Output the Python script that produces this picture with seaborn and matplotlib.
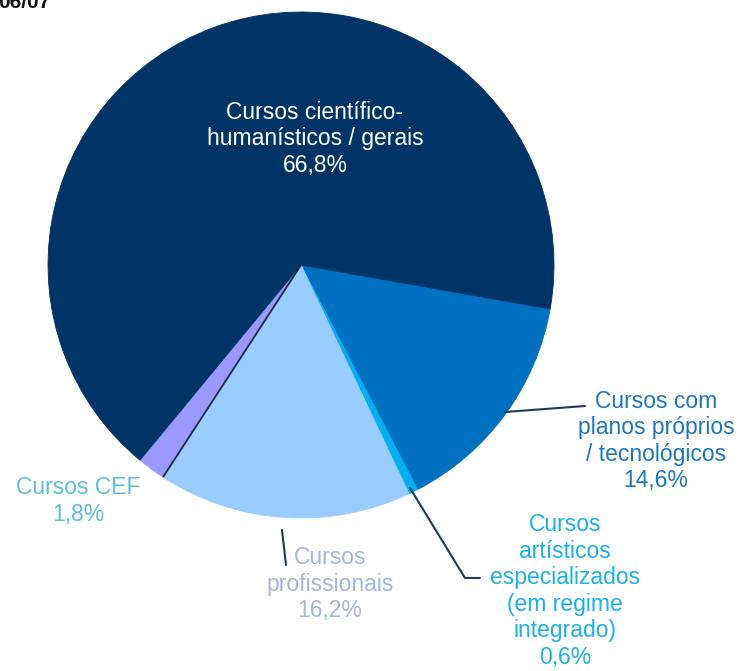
import numpy as np
import matplotlib
matplotlib.use("Agg")
import matplotlib.pyplot as plt
import seaborn as sns

categories = ["Cursos com\nplanos próprios\n/ tecnológicos",
              "Cursos\nartísticos\nespecializados\n(em regime\nintegrado)",
              "Cursos\nprofissionais",
              "Cursos CEF",
              "Cursos científico-\nhumanísticos / gerais"]
values = [14.6, 0.6, 16.2, 1.8, 66.8]
value_labels = ["14,6%", "0,6%", "16,2%", "1,8%", "66,8%"]
colors = ["#0070C0", "#00B0F0", "#99CCFF", "#9999FF", "#003366"]
label_colors = ["#1A78C2", "#19B2EA", "#A3B6E2", "#5CC0DA", "#FFFFFF"]
title = "06/07"

sns.set_theme(style="white")
plt.rcParams['font.family'] = ['Liberation Sans', 'DejaVu Sans']

W, H = 744, 671
fig = plt.figure(figsize=(W / 100, H / 100), dpi=100)
ax = fig.add_axes([0, 0, 1, 1])

cx, cy, R = 301, 265, 253
wedges, _ = ax.pie(values, colors=sns.color_palette(colors), startangle=10,
                   counterclock=True, center=(cx, cy), radius=R,
                   wedgeprops=dict(linewidth=0.6, antialiased=True))
for w, c in zip(wedges, colors):
    w.set_edgecolor(c)

ax.set_xlim(0, W)
ax.set_ylim(H, 0)
ax.set_aspect("equal")
ax.axis("off")

# Y axis is inverted, so angles go clockwise on screen; compute boundaries
bounds = np.concatenate([[10], 10 + np.cumsum(values) * 3.6])

def pt(angle, r):
    a = np.deg2rad(angle)
    return cx + r * np.cos(a), cy + r * np.sin(a)

# thin dark line between profissionais and CEF
x1, y1 = pt(bounds[3], R)
ax.plot([cx, x1], [cy, y1], color="#1F2A3A", lw=1.3, solid_capstyle="butt")

fs = 16.5
ls = 1.2
lc = "#1F3A5A"
# tecnológicos
ax.plot([505, 585], [412, 406], color=lc, lw=1.5)
ax.text(656, 441, categories[0] + "\n" + value_labels[0], ha="center", va="center",
        color=label_colors[0], fontsize=fs, linespacing=ls)
# artísticos
ax.plot([410, 465, 480], [488, 578, 578], color=lc, lw=1.5)
ax.text(565, 591, categories[1] + "\n" + value_labels[1], ha="center", va="center",
        color=label_colors[1], fontsize=fs, linespacing=ls)
# profissionais
ax.plot([282, 286], [530, 565], color=lc, lw=1.5)
ax.text(330, 584, categories[2] + "\n" + value_labels[2], ha="center", va="center",
        color=label_colors[2], fontsize=fs, linespacing=ls)
# CEF
ax.text(78, 501, categories[3] + "\n" + value_labels[3], ha="center", va="center",
        color=label_colors[3], fontsize=fs, linespacing=ls)
# main
ax.text(315, 139, categories[4] + "\n" + value_labels[4], ha="center", va="center",
        color=label_colors[4], fontsize=fs, linespacing=ls)

ax.text(-2, 8, title, ha="left", va="baseline", fontsize=15, fontweight="bold",
        color="#111111")

fig.savefig("out.png", dpi=100)
